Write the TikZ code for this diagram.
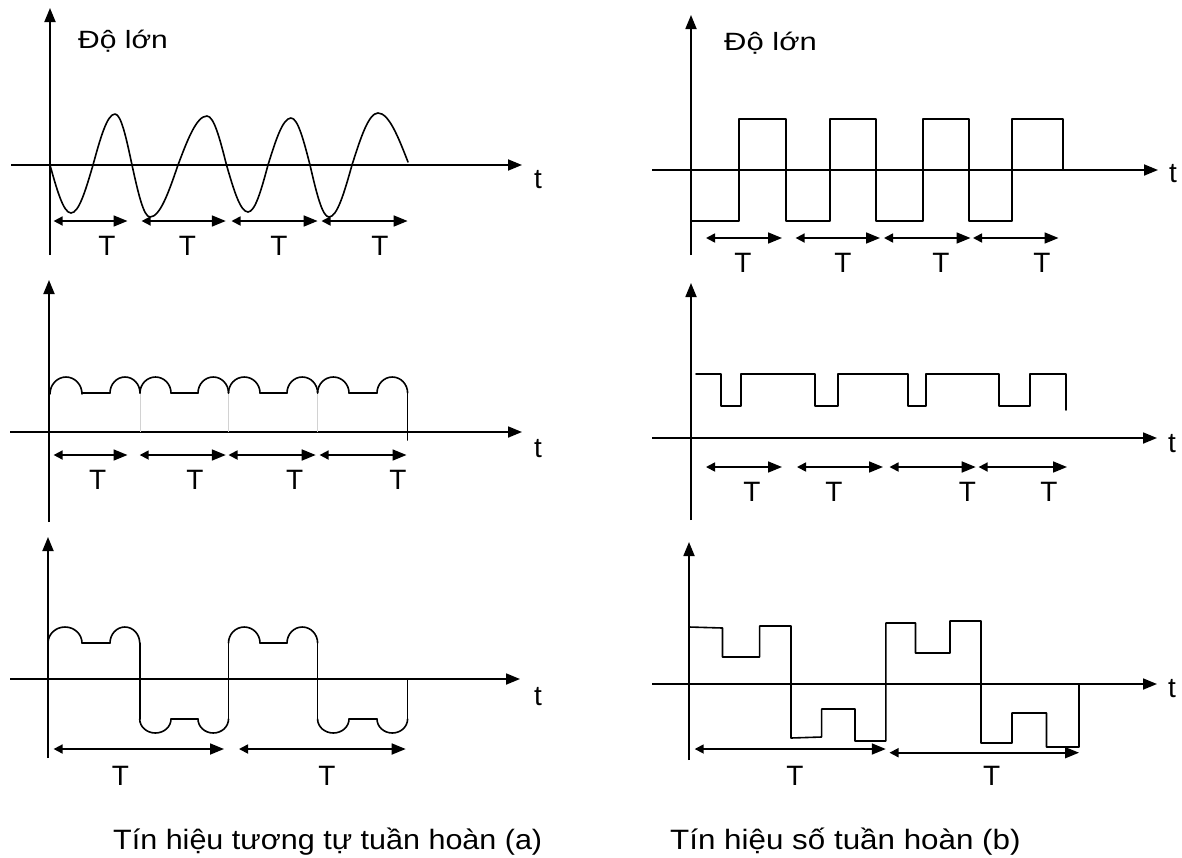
\documentclass[tikz,border=0pt]{standalone}
\usepackage{fontspec}
\setmainfont{Liberation Sans}
\usepackage{graphicx}
\usetikzlibrary{arrows.meta}
\tikzset{
 ax/.style={line width=1.8pt,-{Triangle[length=14pt,width=11pt]}},
 wv/.style={line width=1.6pt,line join=round,line cap=round},
 per/.style={line width=1.7pt,{Triangle[length=9pt,width=9pt]}-{Triangle[length=14pt,width=11pt]}},
 lbl/.style={font=\fontsize{28}{30}\selectfont,anchor=base,inner sep=0pt},
 mag/.style={font=\fontsize{25}{27}\selectfont,anchor=base west,inner sep=0pt},
 captxt/.style={font=\fontsize{28}{30}\selectfont,anchor=base west,inner sep=0pt},
 faint/.style={gray!35,line width=0.6pt}
}
% half-ellipse bump from x=#1 to x=#2, base level #3, extreme level #4
\newcommand\Bump[4]{%
 \draw[wv] (#1,#3) .. controls (#1,{#3-0.552*(#3-#4)}) and ({(#1+#2)/2-0.552*(#2-#1)/2},#4) .. ({(#1+#2)/2},#4)
  .. controls ({(#1+#2)/2+0.552*(#2-#1)/2},#4) and (#2,{#3-0.552*(#3-#4)}) .. (#2,#3);}
\begin{document}
\begin{tikzpicture}[x=1pt,y=-1pt]
\useasboundingbox (0,0) rectangle (1182,857);

% ================= A1 : sine =================
\draw[ax] (50,255) -- (50,8);
\draw[ax] (11,165) -- (522,165);
\node[lbl] (tA1) at (538,188) {t};
\node[mag] (magA) at (78,48) {\scalebox{1.2}[1]{Độ lớn}};
\draw[wv] (50,165) sin (71,213) cos (93,165) sin (115,114) cos (132,165)
  sin (150,217) cos (178,165) sin (207,116) cos (226.5,165)
  sin (248,212) cos (268,165) sin (291,118) cos (310,165)
  sin (329,217) cos (352,165) sin (378,113) cos (408,162);
\draw[per] (53.6,221) -- (127.5,221);
\draw[per] (141.6,221) -- (225.8,221);
\draw[per] (231.5,221) -- (317.6,221);
\draw[per] (321.5,221) -- (407.6,221);
\node[lbl] (TA11) at (107,255) {T};
\node[lbl] (TA12) at (187.5,255) {T};
\node[lbl] (TA13) at (279,255) {T};
\node[lbl] (TA14) at (380,255) {T};

% ================= B1 : square =================
\draw[ax] (691,255) -- (691,15);
\draw[ax] (652,170) -- (1158,170);
\node[lbl] (tB1) at (1173,182) {t};
\node[mag] (magB) at (724,50) {\scalebox{1.24}[1]{Độ lớn}};
\draw[wv] (691,221) -- (739,221) -- (739,119) -- (786,119) -- (786,221) -- (830,221)
  -- (830,119) -- (876,119) -- (876,221) -- (923,221) -- (923,119) -- (969,119)
  -- (969,221) -- (1012,221) -- (1012,119) -- (1063,119) -- (1063,170);
\draw[per] (706,238) -- (782,238);
\draw[per] (795.6,238) -- (880,238);
\draw[per] (884,238) -- (970.5,238);
\draw[per] (973,238) -- (1058.5,238);
\node[lbl] (TB11) at (743,272) {T};
\node[lbl] (TB12) at (843,272) {T};
\node[lbl] (TB13) at (941,272) {T};
\node[lbl] (TB14) at (1042,272) {T};

% ================= A2 : scalloped =================
\draw[ax] (49,522) -- (49,280);
\draw[ax] (10,432) -- (522,432);
\node[lbl] (tA2) at (538,457) {t};
\draw[faint] (140,393) -- (140,432);
\draw[faint] (228.5,393) -- (228.5,432);
\draw[faint] (317.6,393) -- (317.6,432);
\Bump{50}{82}{394}{377}
\draw[wv] (82,393) -- (110,393);
\Bump{110}{140}{393}{377}
\Bump{140}{171}{393}{377}
\draw[wv] (171,393) -- (198,393);
\Bump{198}{228.5}{393}{377}
\Bump{228.5}{260}{393}{377}
\draw[wv] (260,393) -- (287,393);
\Bump{287}{317.6}{393}{377}
\Bump{317.6}{349}{393}{377}
\draw[wv] (349,393) -- (377,393);
\Bump{377}{407.6}{393}{377}
\draw[wv] (407.6,393) -- (407.6,440);
\draw[per] (53.6,455) -- (127.5,455);
\draw[per] (139.7,455) -- (225.8,455);
\draw[per] (228.5,455) -- (315.7,455);
\draw[per] (319.6,455) -- (406.5,455);
\node[lbl] (TA21) at (97.6,489) {T};
\node[lbl] (TA22) at (195,489) {T};
\node[lbl] (TA23) at (294.7,489) {T};
\node[lbl] (TA24) at (398,489) {T};

% ================= B2 : pulse =================
\draw[ax] (691,520) -- (691,283);
\draw[ax] (652,438) -- (1157,438);
\node[lbl] (tB2) at (1172,452) {t};
\draw[wv] (696,374) -- (721,374) -- (721,406) -- (741,406) -- (741,374) -- (815,374)
  -- (815,406) -- (838,406) -- (838,374) -- (908,374) -- (908,406) -- (926,406)
  -- (926,374) -- (999,374) -- (999,406) -- (1030,406) -- (1030,374) -- (1066,374) -- (1066,410);
\draw[per] (706,467) -- (782,467);
\draw[per] (797,467) -- (883,467);
\draw[per] (889.5,467) -- (975.7,467);
\draw[per] (978.6,467) -- (1067,467);
\node[lbl] (TB21) at (752,501) {T};
\node[lbl] (TB22) at (834,501) {T};
\node[lbl] (TB23) at (967.5,501) {T};
\node[lbl] (TB24) at (1049,501) {T};

% ================= A3 : bipolar scalloped =================
\draw[ax] (48,758) -- (48,537);
\draw[ax] (10,679) -- (520,679);
\node[lbl] (tA3) at (538,705) {t};
\Bump{48}{82}{643}{627}
\draw[wv] (82,643) -- (110,643);
\Bump{110}{139.7}{643}{627}
\draw[wv] (139.7,643) -- (139.7,719);
\Bump{139.7}{171}{719}{733}
\draw[wv] (171,719) -- (198,719);
\Bump{198}{228.5}{719}{733}
\draw[wv] (228.5,719) -- (228.5,643);
\Bump{228.5}{260}{643}{627}
\draw[wv] (260,643) -- (287,643);
\Bump{287}{317.6}{643}{627}
\draw[wv] (317.6,643) -- (317.6,719);
\Bump{317.6}{349}{719}{733}
\draw[wv] (349,719) -- (377,719);
\Bump{377}{407.6}{719}{733}
\draw[wv] (407.6,719) -- (407.6,679);
\draw[per] (53.6,749) -- (224,749);
\draw[per] (239,749) -- (405.7,749);
\node[lbl] (TA31) at (120.5,785) {T};
\node[lbl] (TA32) at (327,785) {T};

% ================= B3 : bipolar multilevel =================
\draw[ax] (689,760) -- (689,542);
\draw[ax] (652,684) -- (1157,684);
\node[lbl] (tB3) at (1172,697) {t};
\draw[wv] (689,627) -- (722.5,628) -- (722.5,657) -- (759.6,657) -- (759.6,626) -- (791,626)
  -- (791,738) -- (821.6,737) -- (821.6,709) -- (855,709) -- (855,741) -- (885.8,741)
  -- (885.8,623) -- (915.5,623) -- (915.5,653) -- (950,653) -- (950,621) -- (981,621)
  -- (981,743) -- (1012,743) -- (1012,713) -- (1046.5,713) -- (1046.5,747) -- (1079,747) -- (1079,684);
\draw[per] (694.7,749) -- (885.8,749);
\draw[per] (889.5,752.7) -- (1079,752.7);
\node[lbl] (TB31) at (795,785) {T};
\node[lbl] (TB32) at (991.6,785) {T};

% ================= captions =================
\node[captxt] (capA) at (113,849) {\scalebox{1.09}[1]{Tín hiệu tương tự tuần hoàn (a)}};
\node[captxt] (capB) at (670,849) {\scalebox{1.12}[1]{Tín hiệu số tuần hoàn (b)}};
\end{tikzpicture}
\end{document}
